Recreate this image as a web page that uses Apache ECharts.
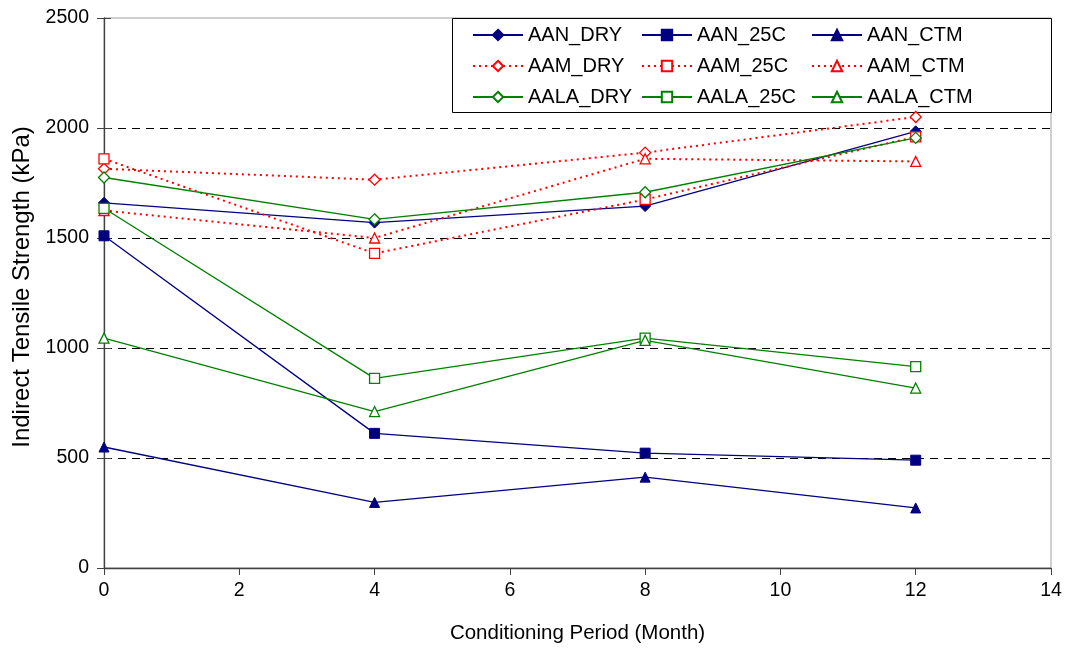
<!DOCTYPE html>
<html>
<head>
<meta charset="utf-8">
<script src="https://cdn.jsdelivr.net/npm/echarts@6/dist/echarts.min.js"></script>
<style>
html,body{margin:0;padding:0;background:#fff;}
#chart{width:1067px;height:650px;}
</style>
</head>
<body>
<div id="chart"></div>
<script>
const months = [0, 4, 8, 12];
const AAN_DRY = [1660, 1570, 1645, 1985];
const AAN_25C = [1510, 612, 522, 490];
const AAN_CTM = [550, 298, 413, 273];
const AAM_DRY = [1815, 1765, 1888, 2050];
const AAM_25C = [1860, 1430, 1675, 1960];
const AAM_CTM = [1625, 1500, 1860, 1848];
const AALA_DRY = [1775, 1585, 1708, 1955];
const AALA_25C = [1635, 862, 1045, 915];
const AALA_CTM = [1045, 711, 1035, 818];

const xTitle = 'Conditioning Period (Month)';
const yTitle = 'Indirect Tensile Strength (kPa)';

const NAVY = '#000080', RED = '#ff0000', GREEN = '#008000';
const FONT = 'Liberation Sans, Arial, sans-serif';

function pairs(vals){ return months.map((m,i)=>[m, vals[i]]); }

function mk(name, vals, color, symbol, dotted, filled){
  return {
    name: name, type: 'line', data: pairs(vals),
    symbol: symbol, symbolSize: symbol.indexOf('iamond')>=0 ? 11 : 10,
    lineStyle: {color: color, width: dotted ? 2 : 1.3, type: dotted ? [2,4] : 'solid'},
    itemStyle: filled ? {color: color, borderColor: color, borderWidth: 1}
                      : {color: '#fff', borderColor: color, borderWidth: 1.3},
    emphasis: {disabled: true},
    animation: false
  };
}

const series = [
  mk('AAN_DRY', AAN_DRY, NAVY, 'diamond', false, true),
  mk('AAN_25C', AAN_25C, NAVY, 'rect', false, true),
  mk('AAN_CTM', AAN_CTM, NAVY, 'triangle', false, true),
  mk('AAM_DRY', AAM_DRY, RED, 'diamond', true, false),
  mk('AAM_25C', AAM_25C, RED, 'rect', true, false),
  mk('AAM_CTM', AAM_CTM, RED, 'triangle', true, false),
  mk('AALA_DRY', AALA_DRY, GREEN, 'diamond', false, false),
  mk('AALA_25C', AALA_25C, GREEN, 'rect', false, false),
  mk('AALA_CTM', AALA_CTM, GREEN, 'triangle', false, false)
];

function legendCol(left, names){
  return {
    orient: 'vertical', left: left, top: 25, z: 10, padding: 0,
    data: names, itemWidth: 50, itemHeight: 13, itemGap: 11,
    textStyle: {fontFamily: FONT, fontSize: 20, color: '#000', lineHeight: 20},
    selectedMode: false
  };
}

const chart = echarts.init(document.getElementById('chart'), null, {renderer: 'canvas'});
chart.setOption({
  backgroundColor: '#fff',
  animation: false,
  grid: {left: 104, right: 16, top: 18, bottom: 82, show: true, borderColor: '#a0a0a0', borderWidth: 1},
  xAxis: {
    type: 'value', min: 0, max: 14, interval: 2,
    name: xTitle, nameLocation: 'middle', nameGap: 55,
    nameTextStyle: {fontFamily: FONT, fontSize: 20.5, color: '#000'},
    axisLine: {lineStyle: {color: '#404040', width: 1.3}},
    axisTick: {show: true, length: 7, lineStyle: {color: '#404040'}},
    axisLabel: {fontFamily: FONT, fontSize: 19.5, color: '#000', margin: 13},
    splitLine: {show: false}
  },
  yAxis: [{
    type: 'value', min: 0, max: 2500, interval: 500,
    name: yTitle, nameLocation: 'middle', nameGap: 70,
    nameTextStyle: {fontFamily: FONT, fontSize: 24, color: '#000', padding: [0,0,0,12]},
    axisLine: {show: true, lineStyle: {color: '#404040', width: 1.3}},
    axisTick: {show: true, length: 7, lineStyle: {color: '#404040'}},
    axisLabel: {fontFamily: FONT, fontSize: 19.5, color: '#000', margin: 15, formatter: v => String(v)},
    splitLine: {show: true, showMinLine: false, showMaxLine: false, lineStyle: {color: '#000', type: [8,6], width: 1}}
  },{
    type: 'value', min: 0, max: 2500, interval: 500, position: 'left',
    axisLine: {show: false},
    axisTick: {show: true, inside: true, length: 7, lineStyle: {color: '#404040'}},
    axisLabel: {show: false},
    splitLine: {show: false}
  }],
  legend: [
    legendCol(472, ['AAN_DRY','AAM_DRY','AALA_DRY']),
    legendCol(641, ['AAN_25C','AAM_25C','AALA_25C']),
    legendCol(811, ['AAN_CTM','AAM_CTM','AALA_CTM'])
  ],
  graphic: [{
    type: 'rect', left: 452, top: 18, z: 3,
    shape: {width: 599, height: 94},
    style: {fill: '#fff', stroke: '#000', lineWidth: 1}
  }],
  series: series
});
</script>
</body>
</html>
